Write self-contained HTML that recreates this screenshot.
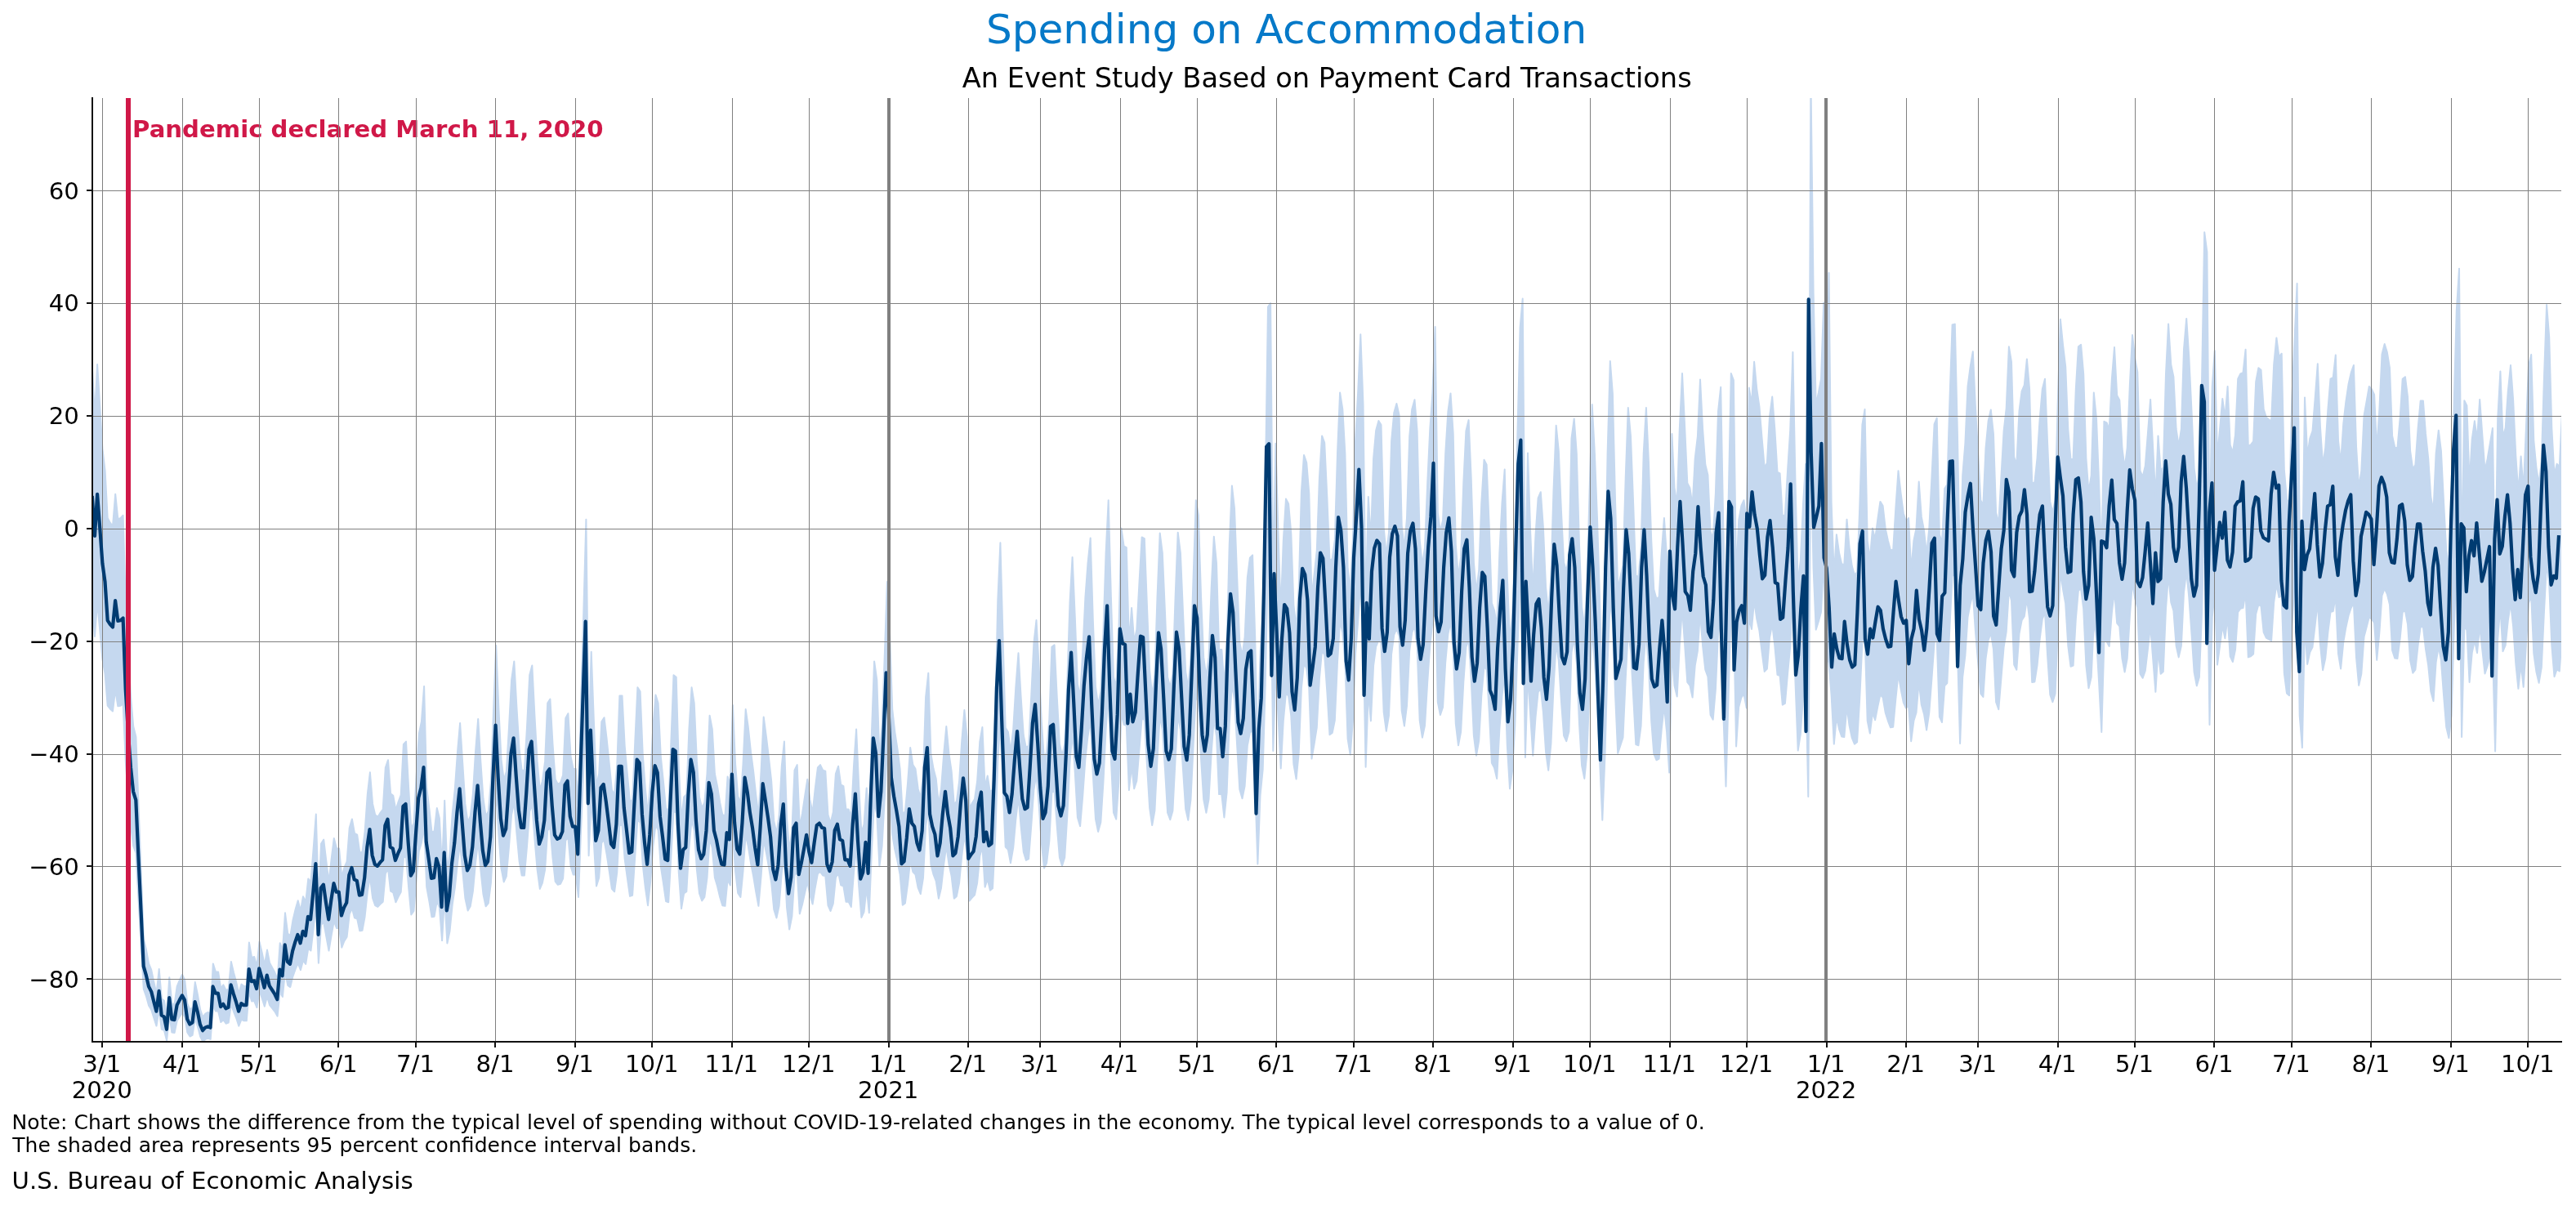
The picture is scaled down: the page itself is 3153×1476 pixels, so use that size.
<!DOCTYPE html><html><head><meta charset="utf-8"><title>Spending on Accommodation</title>
<style>html,body{margin:0;padding:0;background:#fff;overflow:hidden;}svg{display:block;will-change:transform;}text{font-family:"DejaVu Sans","Liberation Sans",sans-serif;}</style></head><body>
<svg width="3153" height="1476" viewBox="0 0 3153 1476">
<rect width="3153" height="1476" fill="#ffffff"/>
<defs><clipPath id="c"><rect x="113.0" y="120.0" width="3022.0" height="1155.0"/></clipPath></defs>
<g clip-path="url(#c)">
<polygon points="112.8,448.6 116.0,508.2 119.1,446.1 122.3,497.3 125.4,549.3 128.6,576.2 131.7,634.1 134.9,639.9 138.0,644.1 141.2,604.7 144.3,634.9 147.5,634.1 150.6,630.7 153.8,736.4 156.9,799.3 160.1,853.0 163.2,889.1 166.4,901.7 169.5,985.6 172.7,1067.8 175.8,1149.2 179.0,1162.6 182.1,1179.4 185.2,1187.0 188.4,1202.1 191.5,1216.3 194.7,1186.1 197.8,1222.2 201.0,1224.7 204.1,1243.2 207.3,1196.2 210.4,1228.1 213.6,1228.9 216.7,1207.1 219.9,1199.5 223.0,1192.8 226.2,1199.5 229.3,1228.1 232.5,1235.6 235.6,1233.1 238.8,1202.1 241.9,1217.2 245.1,1235.6 248.2,1244.8 251.4,1240.7 254.5,1239.0 257.7,1240.7 260.8,1179.4 264.0,1189.5 267.1,1189.5 270.3,1209.6 273.4,1205.4 276.6,1212.1 279.7,1210.5 282.9,1176.9 286.0,1190.3 289.2,1202.1 292.3,1216.3 295.5,1204.6 298.6,1207.1 301.8,1207.1 304.9,1153.4 308.1,1171.9 311.2,1171.0 314.4,1182.8 317.5,1152.6 320.7,1166.0 323.8,1181.1 327.0,1162.6 330.1,1178.6 333.3,1184.4 336.4,1190.3 339.6,1198.7 342.7,1154.2 345.9,1163.5 349.0,1117.3 352.2,1142.5 355.3,1145.8 358.4,1126.6 361.6,1113.1 364.7,1102.2 367.9,1114.8 371.0,1097.2 374.2,1103.9 377.3,1075.4 380.5,1079.6 383.6,1039.3 386.8,996.5 389.9,1102.2 393.1,1032.6 396.2,1027.5 399.4,1054.4 402.5,1079.6 405.7,1051.0 408.8,1025.9 412.0,1038.5 415.1,1038.5 418.3,1073.7 421.4,1061.9 424.6,1054.4 427.7,1013.3 430.9,1002.4 434.0,1020.0 437.2,1021.7 440.3,1043.5 443.5,1042.7 446.6,1017.5 449.8,972.2 452.9,945.3 456.1,983.9 459.2,997.3 462.4,999.9 465.5,994.8 468.7,990.6 471.8,939.5 475.0,930.2 478.1,971.3 481.3,973.9 484.4,991.5 487.6,981.4 490.7,973.0 493.9,910.9 497.0,907.6 500.2,965.5 503.3,1014.1 506.5,1007.4 509.6,950.4 512.8,898.3 515.9,883.2 519.1,839.9 522.2,963.8 525.4,989.8 528.5,1018.3 531.6,1017.5 534.8,989.0 537.9,1001.5 541.1,1061.1 544.2,979.7 547.4,1066.1 550.5,1044.3 553.7,995.7 556.8,965.5 560.0,920.2 563.1,884.9 566.3,935.3 569.4,983.9 572.6,1006.6 575.7,999.0 578.9,971.3 582.0,920.2 585.2,879.9 588.3,931.9 591.5,977.2 594.6,999.0 597.8,993.1 600.9,956.2 604.1,868.1 607.2,790.1 610.4,868.1 613.5,929.4 616.7,954.6 619.8,944.5 623.0,890.0 626.1,832.1 629.3,809.4 632.4,865.6 635.6,916.8 638.7,942.8 641.9,942.8 645.0,890.0 648.2,826.2 651.3,814.4 654.5,877.4 657.6,931.9 660.8,967.1 663.9,956.2 667.1,931.9 670.2,860.6 673.4,855.6 676.5,910.9 679.7,953.7 682.8,959.6 686.0,957.9 689.1,948.7 692.3,879.0 695.4,873.2 698.6,926.0 701.7,941.1 704.8,941.1 708.0,982.2 711.1,859.7 714.3,749.0 717.4,635.7 720.6,906.7 723.7,797.7 726.9,883.2 730.0,962.1 733.2,947.0 736.3,883.2 739.5,878.2 742.6,904.2 745.8,935.3 748.9,967.1 752.1,972.2 755.2,937.8 758.4,851.4 761.5,851.4 764.7,913.4 767.8,947.0 771.0,980.6 774.1,978.9 777.3,907.6 780.4,841.3 783.6,846.3 786.7,922.7 789.9,965.5 793.0,997.3 796.2,952.9 799.3,890.0 802.5,850.5 805.6,860.6 808.8,926.0 811.9,956.2 815.1,989.8 818.2,991.5 821.4,907.6 824.5,826.2 827.7,828.7 830.8,937.8 834.0,1003.2 837.1,975.5 840.3,972.2 843.4,892.5 846.6,841.3 849.7,860.6 852.9,931.9 856.0,975.5 859.2,989.0 862.3,982.2 865.5,947.0 868.6,875.7 871.8,892.5 874.9,947.0 878.0,962.1 881.2,982.2 884.3,997.3 887.5,998.2 890.6,950.4 893.8,960.4 896.9,863.1 900.1,935.3 903.2,974.7 906.4,982.2 909.5,935.3 912.7,868.1 915.8,890.0 919.0,920.2 922.1,943.6 925.3,973.0 928.4,998.2 931.6,943.6 934.7,877.4 937.9,901.7 941.0,927.7 944.2,956.2 947.3,1004.9 950.5,1020.0 953.6,998.2 956.8,937.8 959.9,907.6 963.1,1001.5 966.2,1041.0 969.4,1016.6 972.5,942.8 975.7,936.1 978.8,1012.4 982.0,995.7 985.1,974.7 988.3,953.7 991.4,978.9 994.6,994.8 997.7,965.5 1000.9,939.5 1004.0,936.1 1007.2,942.8 1010.3,943.6 1013.5,997.3 1016.6,1007.4 1019.8,994.0 1022.9,947.0 1026.1,937.8 1029.2,960.4 1032.4,962.1 1035.5,990.6 1038.7,990.6 1041.8,999.9 1045.0,937.8 1048.1,892.5 1051.2,962.1 1054.4,1019.2 1057.5,1009.1 1060.7,964.6 1063.8,1010.8 1067.0,895.8 1070.1,809.4 1073.3,832.1 1076.4,926.0 1079.6,889.1 1082.7,804.4 1085.9,712.1 1089.0,774.2 1092.2,868.1 1095.3,895.8 1098.5,916.8 1101.6,941.1 1104.8,996.5 1107.9,993.1 1111.1,957.9 1114.2,915.1 1117.4,936.1 1120.5,941.1 1123.7,965.5 1126.8,976.4 1130.0,947.0 1133.1,853.0 1136.3,823.7 1139.4,922.7 1142.6,941.1 1145.7,952.9 1148.9,984.8 1152.0,965.5 1155.2,922.7 1158.3,889.1 1161.5,922.7 1164.6,943.6 1167.8,984.8 1170.9,980.6 1174.1,956.2 1177.2,907.6 1180.4,869.0 1183.5,901.7 1186.7,989.0 1189.8,983.1 1193.0,978.0 1196.1,956.2 1199.3,907.6 1202.4,890.0 1205.6,963.8 1208.7,949.5 1211.9,969.7 1215.0,966.3 1218.2,871.5 1221.3,734.7 1224.4,664.3 1227.6,783.4 1230.7,890.8 1233.9,895.8 1237.0,920.2 1240.2,892.5 1243.3,841.3 1246.5,799.3 1249.6,853.0 1252.8,900.0 1255.9,915.1 1259.1,912.6 1262.2,853.0 1265.4,786.8 1268.5,759.1 1271.7,817.0 1274.8,883.2 1278.0,929.4 1281.1,920.2 1284.3,880.7 1287.4,791.8 1290.6,789.3 1293.7,852.2 1296.9,910.1 1300.0,925.2 1303.2,910.1 1306.3,834.6 1309.5,737.3 1312.6,681.9 1315.8,755.7 1318.9,837.1 1322.1,853.0 1325.2,798.5 1328.4,731.4 1331.5,689.4 1334.7,658.4 1337.8,759.1 1341.0,840.5 1344.1,863.1 1347.3,846.3 1350.4,774.2 1353.6,676.8 1356.7,612.2 1359.9,731.4 1363.0,828.7 1366.2,840.5 1369.3,774.2 1372.5,646.6 1375.6,668.5 1378.8,670.1 1381.9,787.6 1385.1,744.0 1388.2,785.1 1391.3,770.8 1394.5,712.9 1397.6,657.5 1400.8,659.2 1403.9,740.6 1407.1,819.5 1410.2,851.4 1413.4,825.3 1416.5,731.4 1419.7,652.5 1422.8,676.8 1426.0,749.8 1429.1,828.7 1432.3,841.3 1435.4,825.3 1438.6,731.4 1441.7,651.7 1444.9,676.8 1448.0,749.8 1451.2,822.0 1454.3,842.1 1457.5,804.4 1460.6,707.1 1463.8,612.2 1466.9,630.7 1470.1,731.4 1473.2,804.4 1476.4,828.7 1479.5,804.4 1482.7,719.6 1485.8,656.7 1489.0,689.4 1492.1,795.1 1495.3,795.1 1498.4,837.1 1501.6,791.8 1504.7,667.6 1507.9,594.6 1511.0,622.3 1514.2,707.1 1517.3,785.9 1520.5,802.7 1523.6,780.0 1526.8,707.1 1529.9,682.7 1533.1,679.4 1536.2,780.0 1539.4,921.8 1542.5,797.7 1545.7,749.8 1548.8,592.1 1552.0,375.6 1555.1,371.0 1558.3,716.3 1561.4,542.8 1564.5,652.5 1567.7,748.2 1570.8,661.7 1574.0,610.6 1577.1,616.4 1580.3,652.5 1583.4,740.6 1586.6,767.5 1589.7,719.6 1592.9,602.2 1596.0,556.9 1599.2,566.1 1602.3,603.9 1605.5,730.5 1608.6,703.7 1611.8,673.5 1614.9,585.4 1618.1,533.4 1621.2,541.8 1624.4,609.7 1627.5,686.9 1630.7,683.6 1633.8,660.9 1637.0,555.2 1640.1,480.5 1643.3,500.7 1646.4,555.2 1649.6,694.5 1652.7,723.0 1655.9,660.9 1659.0,540.1 1662.2,479.7 1665.3,409.2 1668.5,494.8 1671.6,745.6 1674.8,608.0 1677.9,661.7 1681.1,561.1 1684.2,526.7 1687.4,514.9 1690.5,520.0 1693.7,645.8 1696.8,680.2 1700.0,651.7 1703.1,540.1 1706.3,504.9 1709.4,493.9 1712.6,508.2 1715.7,643.3 1718.9,671.0 1722.0,634.1 1725.2,534.2 1728.3,500.7 1731.5,489.3 1734.6,527.5 1737.7,660.9 1740.9,691.9 1744.0,670.1 1747.2,591.3 1750.3,525.0 1753.5,479.7 1756.6,400.0 1759.8,627.3 1762.9,650.8 1766.1,636.6 1769.2,555.2 1772.4,503.6 1775.5,481.4 1778.7,530.9 1781.8,666.8 1785.0,706.2 1788.1,681.9 1791.3,591.3 1794.4,527.5 1797.6,514.1 1800.7,585.4 1803.9,688.6 1807.0,724.7 1810.2,697.8 1813.3,615.6 1816.5,562.7 1819.6,568.6 1822.8,645.8 1825.9,738.1 1829.1,747.3 1832.2,766.6 1835.4,676.0 1838.5,615.6 1841.7,574.5 1844.8,706.2 1848.0,785.1 1851.1,751.5 1854.3,670.1 1857.4,530.9 1860.6,400.8 1863.7,365.6 1866.9,728.0 1870.0,554.5 1873.2,651.7 1876.3,724.7 1879.5,655.0 1882.6,609.7 1885.8,602.2 1888.9,645.8 1892.1,718.8 1895.2,751.5 1898.4,703.7 1901.5,600.5 1904.7,520.8 1907.8,551.8 1910.9,624.8 1914.1,688.6 1917.2,698.7 1920.4,681.0 1923.5,536.7 1926.7,512.4 1929.8,555.2 1933.0,666.8 1936.1,743.1 1939.3,766.6 1942.4,721.3 1945.6,600.5 1948.7,495.1 1951.9,555.2 1955.0,634.9 1958.2,738.1 1961.3,842.1 1964.5,723.8 1967.6,555.2 1970.8,441.9 1973.9,482.2 1977.1,615.6 1980.2,720.5 1983.4,706.2 1986.5,691.9 1989.7,585.4 1992.8,499.0 1996.0,534.2 1999.1,615.6 2002.3,704.5 2005.4,706.2 2008.6,670.1 2011.7,555.2 2014.9,499.0 2018.0,566.9 2021.2,660.9 2024.3,721.3 2027.5,733.1 2030.6,730.5 2033.8,676.0 2036.9,634.1 2040.1,681.9 2043.2,755.7 2046.4,530.9 2049.5,597.1 2052.7,617.3 2055.8,525.0 2059.0,457.0 2062.1,521.6 2065.3,591.3 2068.4,597.1 2071.6,619.0 2074.7,561.1 2077.9,534.2 2081.0,464.6 2084.1,525.0 2087.3,568.6 2090.4,581.2 2093.6,650.8 2096.7,659.2 2099.9,603.9 2103.0,503.6 2106.2,473.8 2109.3,645.8 2112.5,780.9 2115.6,615.6 2118.8,457.0 2121.9,465.4 2125.1,707.9 2128.2,636.6 2131.4,619.0 2134.5,612.2 2137.7,638.3 2140.8,474.6 2144.0,494.8 2147.1,442.8 2150.3,476.3 2153.4,497.3 2156.6,536.7 2159.7,572.0 2162.9,566.9 2166.0,509.9 2169.2,485.6 2172.3,525.0 2175.5,577.8 2178.6,579.5 2181.8,632.4 2184.9,629.9 2188.1,575.3 2191.2,526.7 2194.4,431.0 2197.5,591.3 2200.7,715.4 2203.8,686.1 2207.0,617.3 2210.1,567.8 2213.3,799.3 2216.4,95.4 2219.6,357.4 2222.7,495.6 2225.9,480.5 2229.0,463.7 2232.2,370.6 2235.3,540.9 2238.5,333.9 2241.6,614.8 2244.8,703.7 2247.9,654.2 2251.1,676.8 2254.2,690.3 2257.3,691.1 2260.5,635.7 2263.6,670.1 2266.8,692.8 2269.9,703.7 2273.1,700.3 2276.2,622.3 2279.4,520.0 2282.5,501.1 2285.7,661.7 2288.8,684.4 2292.0,646.6 2295.1,660.1 2298.3,635.7 2301.4,613.9 2304.6,619.0 2307.7,646.6 2310.9,661.7 2314.0,673.5 2317.2,672.7 2320.3,622.3 2323.5,576.2 2326.6,603.9 2329.8,628.2 2332.9,638.3 2336.1,634.1 2339.2,698.7 2342.4,661.7 2345.5,646.6 2348.7,589.6 2351.8,632.4 2355.0,649.2 2358.1,678.5 2361.3,646.6 2364.4,585.4 2367.6,519.1 2370.7,511.6 2373.9,654.2 2377.0,664.3 2380.2,598.0 2383.3,592.9 2386.5,488.1 2389.6,397.5 2392.8,396.6 2395.9,530.9 2399.1,702.9 2402.2,582.0 2405.4,542.6 2408.5,473.0 2411.7,448.6 2414.8,430.2 2418.0,499.8 2421.1,554.4 2424.3,612.2 2427.4,618.1 2430.5,548.5 2433.7,514.9 2436.8,501.5 2440.0,531.7 2443.1,627.3 2446.3,640.8 2449.4,584.6 2452.6,527.5 2455.7,499.8 2458.9,424.3 2462.0,442.8 2465.2,559.4 2468.3,568.6 2471.5,503.2 2474.6,478.8 2477.8,471.3 2480.9,439.4 2484.1,476.3 2487.2,591.3 2490.4,590.4 2493.5,561.1 2496.7,512.4 2499.8,476.3 2503.0,463.7 2506.1,542.6 2509.3,613.9 2512.4,627.3 2515.6,612.2 2518.7,494.4 2521.9,390.7 2525.0,421.8 2528.2,448.6 2531.3,525.0 2534.5,562.7 2537.6,561.1 2540.8,476.3 2543.9,424.3 2547.1,421.8 2550.2,457.9 2553.4,561.1 2556.5,602.2 2559.7,582.0 2562.8,480.5 2566.0,512.4 2569.1,591.3 2572.3,681.9 2575.4,515.8 2578.6,517.4 2581.7,525.8 2584.9,463.7 2588.0,425.1 2591.2,483.9 2594.3,489.7 2597.5,548.5 2600.6,572.8 2603.7,548.5 2606.9,470.5 2610.0,410.0 2613.2,438.6 2616.3,455.4 2619.5,576.2 2622.6,583.7 2625.8,570.3 2628.9,530.9 2632.1,488.9 2635.2,548.5 2638.4,608.9 2641.5,533.4 2644.7,576.2 2647.8,572.0 2651.0,457.9 2654.1,396.6 2657.3,446.1 2660.4,461.2 2663.6,525.0 2666.7,546.0 2669.9,525.0 2673.0,427.7 2676.2,389.9 2679.3,436.9 2682.5,503.2 2685.6,572.8 2688.8,598.0 2691.9,582.0 2695.1,463.7 2698.2,284.2 2701.4,308.5 2704.5,668.5 2707.7,473.0 2710.8,429.3 2714.0,559.4 2717.1,525.0 2720.3,488.1 2723.4,511.6 2726.6,473.0 2729.7,544.3 2732.9,554.4 2736.0,532.5 2739.2,463.7 2742.3,457.4 2745.5,456.2 2748.6,427.7 2751.8,546.0 2754.9,544.3 2758.1,540.1 2761.2,467.1 2764.4,450.3 2767.5,452.8 2770.7,500.7 2773.8,510.7 2776.9,513.2 2780.1,515.8 2783.2,446.1 2786.4,413.4 2789.5,436.9 2792.7,432.7 2795.8,574.5 2799.0,611.4 2802.1,615.6 2805.3,488.1 2808.4,418.4 2811.6,347.1 2814.7,651.7 2817.9,710.4 2821.0,486.4 2824.2,558.5 2827.3,536.7 2830.5,527.5 2833.6,488.1 2836.8,445.3 2839.9,521.6 2843.1,569.5 2846.2,548.5 2849.4,500.7 2852.5,463.7 2855.7,462.1 2858.8,434.4 2862.0,539.3 2865.1,566.9 2868.3,518.3 2871.4,491.4 2874.6,470.0 2877.7,456.2 2880.9,447.0 2884.0,546.0 2887.2,597.1 2890.3,576.2 2893.5,509.0 2896.6,491.4 2899.8,473.0 2902.9,476.3 2906.1,483.0 2909.2,551.0 2912.4,500.7 2915.5,433.5 2918.7,421.0 2921.8,431.0 2925.0,450.3 2928.1,533.4 2931.3,547.6 2934.4,548.5 2937.6,512.4 2940.7,463.7 2943.9,461.2 2947.0,485.6 2950.1,551.8 2953.3,574.5 2956.4,568.6 2959.6,524.1 2962.7,490.6 2965.9,490.6 2969.0,530.9 2972.2,561.1 2975.3,608.0 2978.5,625.7 2981.6,555.2 2984.8,526.7 2987.9,551.8 2991.1,615.6 2994.2,672.7 2997.4,692.8 3000.5,651.7 3003.7,493.9 3006.8,379.8 3010.0,328.7 3013.1,691.1 3016.3,490.2 3019.4,496.5 3022.6,591.3 3025.7,538.0 3028.9,515.3 3032.0,538.0 3035.2,488.9 3038.3,532.1 3041.5,575.7 3044.6,561.9 3047.8,542.6 3050.9,524.1 3054.1,717.1 3057.2,512.4 3060.4,454.5 3063.5,535.1 3066.7,523.7 3069.8,478.8 3073.0,447.0 3076.1,489.3 3079.3,557.7 3082.4,603.0 3085.6,558.5 3088.7,600.1 3091.9,524.1 3095.0,447.4 3098.2,434.0 3101.3,539.3 3104.5,572.8 3107.6,592.5 3110.8,564.4 3113.9,463.7 3117.1,373.1 3120.2,412.6 3123.3,524.1 3126.5,581.2 3129.6,567.8 3132.8,571.1 3135.9,507.4 3135.9,778.5 3132.8,821.4 3129.6,819.1 3126.5,828.1 3123.3,789.7 3120.2,714.7 3117.1,688.1 3113.9,749.1 3110.8,816.9 3107.6,835.8 3104.5,822.5 3101.3,799.9 3098.2,729.1 3095.0,738.1 3091.9,789.7 3088.7,840.8 3085.6,812.9 3082.4,842.8 3079.3,812.3 3076.1,766.3 3073.0,737.8 3069.8,759.3 3066.7,789.5 3063.5,797.1 3060.4,742.9 3057.2,781.8 3054.1,919.6 3050.9,789.7 3047.8,802.2 3044.6,815.2 3041.5,824.5 3038.3,795.1 3035.2,766.0 3032.0,799.1 3028.9,783.8 3025.7,799.1 3022.6,834.9 3019.4,771.1 3016.3,766.9 3013.1,902.1 3010.0,658.2 3006.8,692.6 3003.7,769.4 3000.5,875.6 2997.4,903.2 2994.2,889.7 2991.1,851.3 2987.9,808.4 2984.8,791.4 2981.6,810.6 2978.5,858.1 2975.3,846.2 2972.2,814.6 2969.0,794.3 2965.9,767.2 2962.7,767.2 2959.6,789.7 2956.4,819.7 2953.3,823.6 2950.1,808.4 2947.0,763.8 2943.9,747.4 2940.7,749.1 2937.6,781.8 2934.4,806.1 2931.3,805.6 2928.1,796.0 2925.0,740.1 2921.8,727.1 2918.7,720.3 2915.5,728.8 2912.4,773.9 2909.2,807.8 2906.1,762.1 2902.9,757.6 2899.8,755.3 2896.6,767.7 2893.5,779.6 2890.3,824.8 2887.2,838.9 2884.0,804.4 2880.9,737.8 2877.7,744.0 2874.6,753.3 2871.4,767.7 2868.3,785.8 2865.1,818.5 2862.0,799.9 2858.8,729.3 2855.7,748.0 2852.5,749.1 2849.4,773.9 2846.2,806.1 2843.1,820.2 2839.9,788.1 2836.8,736.7 2833.6,765.5 2830.5,792.0 2827.3,798.2 2824.2,812.9 2821.0,764.3 2817.9,915.1 2814.7,875.6 2811.6,670.6 2808.4,718.6 2805.3,765.5 2802.1,851.3 2799.0,848.5 2795.8,823.6 2792.7,728.2 2789.5,731.0 2786.4,715.2 2783.2,737.2 2780.1,784.1 2776.9,782.4 2773.8,780.7 2770.7,773.9 2767.5,741.8 2764.4,740.1 2761.2,751.4 2758.1,800.5 2754.9,803.3 2751.8,804.4 2748.6,724.8 2745.5,744.0 2742.3,744.9 2739.2,749.1 2736.0,795.4 2732.9,810.1 2729.7,803.3 2726.6,755.3 2723.4,781.3 2720.3,765.5 2717.1,790.3 2714.0,813.5 2710.8,725.9 2707.7,755.3 2704.5,886.9 2701.4,644.6 2698.2,628.3 2695.1,749.1 2691.9,828.7 2688.8,839.4 2685.6,822.5 2682.5,775.6 2679.3,731.0 2676.2,699.4 2673.0,724.8 2669.9,790.3 2666.7,804.4 2663.6,790.3 2660.4,747.4 2657.3,737.2 2654.1,703.9 2651.0,745.1 2647.8,821.9 2644.7,824.8 2641.5,796.0 2638.4,846.8 2635.2,806.1 2632.1,766.0 2628.9,794.3 2625.8,820.8 2622.6,829.8 2619.5,824.8 2616.3,743.5 2613.2,732.2 2610.0,713.0 2606.9,753.6 2603.7,806.1 2600.6,822.5 2597.5,806.1 2594.3,766.6 2591.2,762.6 2588.0,723.1 2584.9,749.1 2581.7,790.9 2578.6,785.2 2575.4,784.1 2572.3,895.9 2569.1,834.9 2566.0,781.8 2562.8,760.4 2559.7,828.7 2556.5,842.3 2553.4,814.6 2550.2,745.1 2547.1,720.9 2543.9,722.6 2540.8,757.6 2537.6,814.6 2534.5,815.7 2531.3,790.3 2528.2,738.9 2525.0,720.9 2521.9,700.0 2518.7,769.7 2515.6,849.0 2512.4,859.2 2509.3,850.2 2506.1,802.2 2503.0,749.1 2499.8,757.6 2496.7,781.8 2493.5,814.6 2490.4,834.4 2487.2,834.9 2484.1,757.6 2480.9,732.7 2477.8,754.2 2474.6,759.3 2471.5,775.6 2468.3,819.7 2465.2,813.5 2462.0,735.0 2458.9,722.6 2455.7,773.4 2452.6,792.0 2449.4,830.4 2446.3,868.2 2443.1,859.2 2440.0,794.8 2436.8,774.5 2433.7,783.5 2430.5,806.1 2427.4,853.0 2424.3,849.0 2421.1,810.1 2418.0,773.4 2414.8,726.5 2411.7,738.9 2408.5,755.3 2405.4,802.2 2402.2,828.7 2399.1,910.0 2395.9,794.3 2392.8,703.9 2389.6,704.5 2386.5,765.5 2383.3,836.0 2380.2,839.4 2377.0,884.0 2373.9,877.3 2370.7,781.3 2367.6,786.4 2364.4,831.0 2361.3,872.2 2358.1,893.6 2355.0,873.9 2351.8,862.6 2348.7,833.8 2345.5,872.2 2342.4,882.3 2339.2,907.2 2336.1,863.7 2332.9,866.5 2329.8,859.8 2326.6,843.4 2323.5,824.8 2320.3,855.8 2317.2,889.7 2314.0,890.3 2310.9,882.3 2307.7,872.2 2304.6,853.6 2301.4,850.2 2298.3,864.8 2295.1,881.2 2292.0,872.2 2288.8,897.6 2285.7,882.3 2282.5,774.2 2279.4,786.9 2276.2,855.8 2273.1,908.3 2269.9,910.6 2266.8,903.2 2263.6,888.0 2260.5,864.8 2257.3,902.1 2254.2,901.5 2251.1,892.5 2247.9,877.3 2244.8,910.6 2241.6,850.7 2238.5,811.2 2235.3,801.0 2232.2,686.4 2229.0,749.1 2225.9,760.4 2222.7,770.6 2219.6,695.5 2216.4,541.9 2213.3,974.9 2210.1,819.1 2207.0,852.4 2203.8,898.7 2200.7,918.5 2197.5,834.9 2194.4,727.1 2191.2,791.4 2188.1,824.2 2184.9,860.9 2181.8,862.6 2178.6,827.0 2175.5,825.9 2172.3,790.3 2169.2,763.8 2166.0,780.2 2162.9,818.5 2159.7,821.9 2156.6,798.2 2153.4,771.7 2150.3,757.6 2147.1,735.0 2144.0,770.0 2140.8,756.4 2137.7,866.5 2134.5,849.0 2131.4,853.6 2128.2,865.4 2125.1,913.4 2121.9,750.2 2118.8,744.6 2115.6,851.3 2112.5,962.5 2109.3,871.6 2106.2,755.9 2103.0,775.9 2099.9,843.4 2096.7,880.7 2093.6,875.0 2090.4,828.1 2087.3,819.7 2084.1,790.3 2081.0,749.7 2077.9,796.5 2074.7,814.6 2071.6,853.6 2068.4,838.9 2065.3,834.9 2062.1,788.1 2059.0,744.6 2055.8,790.3 2052.7,852.4 2049.5,838.9 2046.4,794.3 2043.2,945.6 2040.1,895.9 2036.9,863.7 2033.8,891.9 2030.6,928.6 2027.5,930.3 2024.3,922.4 2021.2,881.8 2018.0,818.5 2014.9,772.8 2011.7,810.6 2008.6,888.0 2005.4,912.3 2002.3,911.1 1999.1,851.3 1996.0,796.5 1992.8,772.8 1989.7,831.0 1986.5,902.7 1983.4,912.3 1980.2,921.9 1977.1,851.3 1973.9,761.5 1970.8,734.4 1967.6,810.6 1964.5,924.1 1961.3,1003.7 1958.2,933.7 1955.0,864.3 1951.9,810.6 1948.7,770.2 1945.6,841.1 1942.4,922.4 1939.3,952.9 1936.1,937.1 1933.0,885.7 1929.8,810.6 1926.7,781.8 1923.5,798.2 1920.4,895.3 1917.2,907.2 1914.1,900.4 1910.9,857.5 1907.8,808.4 1904.7,787.5 1901.5,841.1 1898.4,910.6 1895.2,942.8 1892.1,920.7 1888.9,871.6 1885.8,842.3 1882.6,847.3 1879.5,877.8 1876.3,924.7 1873.2,875.6 1870.0,824.8 1866.9,927.0 1863.7,683.0 1860.6,706.8 1857.4,794.3 1854.3,888.0 1851.1,942.8 1848.0,965.3 1844.8,912.3 1841.7,823.6 1838.5,851.3 1835.4,891.9 1832.2,952.9 1829.1,939.9 1825.9,933.7 1822.8,871.6 1819.6,819.7 1816.5,815.7 1813.3,851.3 1810.2,906.6 1807.0,924.7 1803.9,900.4 1800.7,831.0 1797.6,783.0 1794.4,792.0 1791.3,834.9 1788.1,895.9 1785.0,912.3 1781.8,885.7 1778.7,794.3 1775.5,761.0 1772.4,775.9 1769.2,810.6 1766.1,865.4 1762.9,875.0 1759.8,859.2 1756.6,706.2 1753.5,759.8 1750.3,790.3 1747.2,834.9 1744.0,888.0 1740.9,902.7 1737.7,881.8 1734.6,792.0 1731.5,766.3 1728.3,773.9 1725.2,796.5 1722.0,863.7 1718.9,888.6 1715.7,869.9 1712.6,779.0 1709.4,769.4 1706.3,776.8 1703.1,800.5 1700.0,875.6 1696.8,894.8 1693.7,871.6 1690.5,786.9 1687.4,783.5 1684.2,791.4 1681.1,814.6 1677.9,882.3 1674.8,846.2 1671.6,938.8 1668.5,770.0 1665.3,712.4 1662.2,759.8 1659.0,800.5 1655.9,881.8 1652.7,923.6 1649.6,904.4 1646.4,810.6 1643.3,773.9 1640.1,760.4 1637.0,810.6 1633.8,881.8 1630.7,897.0 1627.5,899.3 1624.4,847.3 1621.2,801.6 1618.1,796.0 1614.9,831.0 1611.8,890.3 1608.6,910.6 1605.5,928.6 1602.3,843.4 1599.2,818.0 1596.0,811.8 1592.9,842.3 1589.7,921.3 1586.6,953.5 1583.4,935.4 1580.3,876.1 1577.1,851.9 1574.0,847.9 1570.8,882.3 1567.7,940.5 1564.5,876.1 1561.4,816.9 1558.3,919.0 1555.1,686.7 1552.0,689.8 1548.8,835.5 1545.7,941.6 1542.5,973.8 1539.4,1057.4 1536.2,962.0 1533.1,894.2 1529.9,896.5 1526.8,912.8 1523.6,962.0 1520.5,977.2 1517.3,965.9 1514.2,912.8 1511.0,855.8 1507.9,837.2 1504.7,886.3 1501.6,969.9 1498.4,1000.4 1495.3,972.1 1492.1,972.1 1489.0,901.0 1485.8,879.0 1482.7,921.3 1479.5,978.3 1476.4,994.7 1473.2,978.3 1470.1,929.2 1466.9,861.5 1463.8,849.0 1460.6,912.8 1457.5,978.3 1454.3,1003.7 1451.2,990.2 1448.0,941.6 1444.9,892.5 1441.7,875.6 1438.6,929.2 1435.4,992.4 1432.3,1003.2 1429.1,994.7 1426.0,941.6 1422.8,892.5 1419.7,876.1 1416.5,929.2 1413.4,992.4 1410.2,1010.0 1407.1,988.5 1403.9,935.4 1400.8,880.7 1397.6,879.5 1394.5,916.8 1391.3,955.7 1388.2,965.3 1385.1,937.7 1381.9,967.0 1378.8,888.0 1375.6,886.9 1372.5,872.2 1369.3,958.0 1366.2,1002.6 1363.0,994.7 1359.9,929.2 1356.7,849.0 1353.6,892.5 1350.4,958.0 1347.3,1006.6 1344.1,1017.9 1341.0,1002.6 1337.8,947.8 1334.7,880.1 1331.5,901.0 1328.4,929.2 1325.2,974.4 1322.1,1011.1 1318.9,1000.4 1315.8,945.6 1312.6,895.9 1309.5,933.2 1306.3,998.7 1303.2,1049.5 1300.0,1059.6 1296.9,1049.5 1293.7,1010.5 1290.6,968.2 1287.4,969.9 1284.3,1029.7 1281.1,1056.2 1278.0,1062.5 1274.8,1031.4 1271.7,986.8 1268.5,947.8 1265.4,966.5 1262.2,1011.1 1259.1,1051.2 1255.9,1052.9 1252.8,1042.7 1249.6,1011.1 1246.5,974.9 1243.3,1003.2 1240.2,1037.6 1237.0,1056.2 1233.9,1039.9 1230.7,1036.5 1227.6,964.2 1224.4,884.0 1221.3,931.5 1218.2,1023.5 1215.0,1087.3 1211.9,1089.6 1208.7,1076.0 1205.6,1085.6 1202.4,1035.9 1199.3,1047.8 1196.1,1080.5 1193.0,1095.2 1189.8,1098.6 1186.7,1102.5 1183.5,1043.8 1180.4,1021.8 1177.2,1047.8 1174.1,1080.5 1170.9,1096.9 1167.8,1099.7 1164.6,1072.1 1161.5,1057.9 1158.3,1035.4 1155.2,1057.9 1152.0,1086.7 1148.9,1099.7 1145.7,1078.3 1142.6,1070.4 1139.4,1057.9 1136.3,991.3 1133.1,1011.1 1130.0,1074.3 1126.8,1094.1 1123.7,1086.7 1120.5,1070.4 1117.4,1067.0 1114.2,1052.9 1111.1,1081.7 1107.9,1105.4 1104.8,1107.6 1101.6,1070.4 1098.5,1054.0 1095.3,1039.9 1092.2,1021.2 1089.0,958.0 1085.9,916.2 1082.7,978.3 1079.6,1035.4 1076.4,1060.2 1073.3,997.0 1070.1,981.7 1067.0,1039.9 1063.8,1117.2 1060.7,1086.2 1057.5,1116.1 1054.4,1122.9 1051.2,1084.5 1048.1,1037.6 1045.0,1068.1 1041.8,1109.9 1038.7,1103.7 1035.5,1103.7 1032.4,1084.5 1029.2,1083.4 1026.1,1068.1 1022.9,1074.3 1019.8,1105.9 1016.6,1115.0 1013.5,1108.2 1010.3,1072.1 1007.2,1071.5 1004.0,1067.0 1000.9,1069.2 997.7,1086.7 994.6,1106.5 991.4,1095.8 988.3,1078.8 985.1,1092.9 982.0,1107.1 978.8,1118.4 975.7,1067.0 972.5,1071.5 969.4,1121.2 966.2,1137.6 963.1,1111.0 959.9,1047.8 956.8,1068.1 953.6,1108.8 950.5,1123.4 947.3,1113.3 944.2,1080.5 941.0,1061.3 937.9,1043.8 934.7,1027.5 931.6,1072.1 928.4,1108.8 925.3,1091.8 922.1,1072.1 919.0,1056.2 915.8,1035.9 912.7,1021.2 909.5,1066.4 906.4,1098.0 903.2,1092.9 900.1,1066.4 896.9,1017.9 893.8,1083.4 890.6,1076.6 887.5,1108.8 884.3,1108.2 881.2,1098.0 878.0,1084.5 874.9,1074.3 871.8,1037.6 868.6,1026.3 865.5,1074.3 862.3,1098.0 859.2,1102.5 856.0,1093.5 852.9,1064.2 849.7,1016.2 846.6,1003.2 843.4,1037.6 840.3,1091.3 837.1,1093.5 834.0,1112.1 830.8,1068.1 827.7,994.7 824.5,993.0 821.4,1047.8 818.2,1104.2 815.1,1103.1 811.9,1080.5 808.8,1060.2 805.6,1016.2 802.5,1009.4 799.3,1035.9 796.2,1078.3 793.0,1108.2 789.9,1086.7 786.7,1057.9 783.6,1006.6 780.4,1003.2 777.3,1047.8 774.1,1095.8 771.0,1096.9 767.8,1074.3 764.7,1051.7 761.5,1010.0 758.4,1010.0 755.2,1068.1 752.1,1091.3 748.9,1087.9 745.8,1066.4 742.6,1045.5 739.5,1028.0 736.3,1031.4 733.2,1074.3 730.0,1084.5 726.9,1031.4 723.7,973.8 720.6,1047.2 717.4,864.8 714.3,941.1 711.1,1015.6 708.0,1098.0 704.8,1070.4 701.7,1070.4 698.6,1060.2 695.4,1024.6 692.3,1028.6 689.1,1075.4 686.0,1081.7 682.8,1082.8 679.7,1078.8 676.5,1050.0 673.4,1012.8 670.2,1016.2 667.1,1064.2 663.9,1080.5 660.8,1087.9 657.6,1064.2 654.5,1027.5 651.3,985.1 648.2,993.0 645.0,1035.9 641.9,1071.5 638.7,1071.5 635.6,1054.0 632.4,1019.5 629.3,981.7 626.1,997.0 623.0,1035.9 619.8,1072.6 616.7,1079.4 613.5,1062.5 610.4,1021.2 607.2,968.7 604.1,1021.2 600.9,1080.5 597.8,1105.4 594.6,1109.3 591.5,1094.6 588.3,1064.2 585.2,1029.1 582.0,1056.2 578.9,1090.7 575.7,1109.3 572.6,1114.4 569.4,1099.2 566.3,1066.4 563.1,1032.5 560.0,1056.2 556.8,1086.7 553.7,1107.1 550.5,1139.8 547.4,1154.5 544.2,1096.3 541.1,1151.1 537.9,1111.0 534.8,1102.5 531.6,1121.7 528.5,1122.3 525.4,1103.1 522.2,1085.6 519.1,1011.1 515.9,1031.4 512.8,1041.6 509.6,1076.6 506.5,1115.0 503.3,1119.5 500.2,1086.7 497.0,1047.8 493.9,1050.0 490.7,1091.8 487.6,1097.5 484.4,1104.2 481.3,1092.4 478.1,1090.7 475.0,1063.0 471.8,1069.2 468.7,1103.7 465.5,1106.5 462.4,1109.9 459.2,1108.2 456.1,1099.2 452.9,1073.2 449.8,1091.3 446.6,1121.7 443.5,1138.7 440.3,1139.2 437.2,1124.6 434.0,1123.4 430.9,1111.6 427.7,1118.9 424.6,1146.6 421.4,1151.7 418.3,1159.6 415.1,1135.9 412.0,1135.9 408.8,1127.4 405.7,1144.3 402.5,1163.5 399.4,1146.6 396.2,1128.5 393.1,1131.9 389.9,1178.8 386.8,1107.6 383.6,1136.4 380.5,1163.5 377.3,1160.7 374.2,1179.9 371.0,1175.4 367.9,1187.2 364.7,1178.8 361.6,1186.1 358.4,1195.1 355.3,1208.1 352.2,1205.9 349.0,1188.9 345.9,1220.0 342.7,1213.8 339.6,1243.7 336.4,1238.1 333.3,1234.1 330.1,1230.2 327.0,1219.4 323.8,1231.8 320.7,1221.7 317.5,1212.6 314.4,1233.0 311.2,1225.1 308.1,1225.6 304.9,1213.2 301.8,1249.3 298.6,1249.3 295.5,1247.7 292.3,1255.6 289.2,1246.0 286.0,1238.1 282.9,1229.0 279.7,1251.6 276.6,1252.7 273.4,1248.2 270.3,1251.0 267.1,1237.5 264.0,1237.5 260.8,1230.7 257.7,1271.9 254.5,1270.8 251.4,1271.9 248.2,1274.8 245.1,1268.5 241.9,1256.1 238.8,1246.0 235.6,1266.9 232.5,1268.5 229.3,1263.5 226.2,1244.3 223.0,1239.8 219.9,1244.3 216.7,1249.3 213.6,1264.0 210.4,1263.5 207.3,1242.0 204.1,1273.6 201.0,1261.2 197.8,1259.5 194.7,1235.2 191.5,1255.6 188.4,1246.0 185.2,1235.8 182.1,1230.7 179.0,1219.4 175.8,1210.4 172.7,1155.6 169.5,1100.3 166.4,1043.8 163.2,1035.4 160.1,1011.1 156.9,974.9 153.8,932.6 150.6,861.5 147.5,863.7 144.3,864.3 141.2,844.0 138.0,870.5 134.9,867.7 131.7,863.7 128.6,824.8 125.4,806.7 122.3,771.7 119.1,737.2 116.0,779.0 112.8,738.9" fill="#c5d8ef" stroke="#c5d8ef" stroke-width="2" stroke-linejoin="round"/>
<text x="162.1" y="168.1" font-size="29.17" font-weight="bold" fill="#d01848">Pandemic declared March 11, 2020</text>
<line x1="125.5" x2="125.5" y1="120.0" y2="1275.0" stroke="#808080" stroke-width="1" shape-rendering="crispEdges"/>
<line x1="223.5" x2="223.5" y1="120.0" y2="1275.0" stroke="#808080" stroke-width="1" shape-rendering="crispEdges"/>
<line x1="317.5" x2="317.5" y1="120.0" y2="1275.0" stroke="#808080" stroke-width="1" shape-rendering="crispEdges"/>
<line x1="414.5" x2="414.5" y1="120.0" y2="1275.0" stroke="#808080" stroke-width="1" shape-rendering="crispEdges"/>
<line x1="509.5" x2="509.5" y1="120.0" y2="1275.0" stroke="#808080" stroke-width="1" shape-rendering="crispEdges"/>
<line x1="606.5" x2="606.5" y1="120.0" y2="1275.0" stroke="#808080" stroke-width="1" shape-rendering="crispEdges"/>
<line x1="704.5" x2="704.5" y1="120.0" y2="1275.0" stroke="#808080" stroke-width="1" shape-rendering="crispEdges"/>
<line x1="798.5" x2="798.5" y1="120.0" y2="1275.0" stroke="#808080" stroke-width="1" shape-rendering="crispEdges"/>
<line x1="896.5" x2="896.5" y1="120.0" y2="1275.0" stroke="#808080" stroke-width="1" shape-rendering="crispEdges"/>
<line x1="990.5" x2="990.5" y1="120.0" y2="1275.0" stroke="#808080" stroke-width="1" shape-rendering="crispEdges"/>
<line x1="1185.5" x2="1185.5" y1="120.0" y2="1275.0" stroke="#808080" stroke-width="1" shape-rendering="crispEdges"/>
<line x1="1273.5" x2="1273.5" y1="120.0" y2="1275.0" stroke="#808080" stroke-width="1" shape-rendering="crispEdges"/>
<line x1="1371.5" x2="1371.5" y1="120.0" y2="1275.0" stroke="#808080" stroke-width="1" shape-rendering="crispEdges"/>
<line x1="1465.5" x2="1465.5" y1="120.0" y2="1275.0" stroke="#808080" stroke-width="1" shape-rendering="crispEdges"/>
<line x1="1562.5" x2="1562.5" y1="120.0" y2="1275.0" stroke="#808080" stroke-width="1" shape-rendering="crispEdges"/>
<line x1="1657.5" x2="1657.5" y1="120.0" y2="1275.0" stroke="#808080" stroke-width="1" shape-rendering="crispEdges"/>
<line x1="1754.5" x2="1754.5" y1="120.0" y2="1275.0" stroke="#808080" stroke-width="1" shape-rendering="crispEdges"/>
<line x1="1852.5" x2="1852.5" y1="120.0" y2="1275.0" stroke="#808080" stroke-width="1" shape-rendering="crispEdges"/>
<line x1="1946.5" x2="1946.5" y1="120.0" y2="1275.0" stroke="#808080" stroke-width="1" shape-rendering="crispEdges"/>
<line x1="2044.5" x2="2044.5" y1="120.0" y2="1275.0" stroke="#808080" stroke-width="1" shape-rendering="crispEdges"/>
<line x1="2138.5" x2="2138.5" y1="120.0" y2="1275.0" stroke="#808080" stroke-width="1" shape-rendering="crispEdges"/>
<line x1="2333.5" x2="2333.5" y1="120.0" y2="1275.0" stroke="#808080" stroke-width="1" shape-rendering="crispEdges"/>
<line x1="2421.5" x2="2421.5" y1="120.0" y2="1275.0" stroke="#808080" stroke-width="1" shape-rendering="crispEdges"/>
<line x1="2519.5" x2="2519.5" y1="120.0" y2="1275.0" stroke="#808080" stroke-width="1" shape-rendering="crispEdges"/>
<line x1="2613.5" x2="2613.5" y1="120.0" y2="1275.0" stroke="#808080" stroke-width="1" shape-rendering="crispEdges"/>
<line x1="2710.5" x2="2710.5" y1="120.0" y2="1275.0" stroke="#808080" stroke-width="1" shape-rendering="crispEdges"/>
<line x1="2805.5" x2="2805.5" y1="120.0" y2="1275.0" stroke="#808080" stroke-width="1" shape-rendering="crispEdges"/>
<line x1="2902.5" x2="2902.5" y1="120.0" y2="1275.0" stroke="#808080" stroke-width="1" shape-rendering="crispEdges"/>
<line x1="3000.5" x2="3000.5" y1="120.0" y2="1275.0" stroke="#808080" stroke-width="1" shape-rendering="crispEdges"/>
<line x1="3094.5" x2="3094.5" y1="120.0" y2="1275.0" stroke="#808080" stroke-width="1" shape-rendering="crispEdges"/>
<line x1="113.0" x2="3135.0" y1="1198.5" y2="1198.5" stroke="#808080" stroke-width="1" shape-rendering="crispEdges"/>
<line x1="113.0" x2="3135.0" y1="1060.5" y2="1060.5" stroke="#808080" stroke-width="1" shape-rendering="crispEdges"/>
<line x1="113.0" x2="3135.0" y1="923.5" y2="923.5" stroke="#808080" stroke-width="1" shape-rendering="crispEdges"/>
<line x1="113.0" x2="3135.0" y1="785.5" y2="785.5" stroke="#808080" stroke-width="1" shape-rendering="crispEdges"/>
<line x1="113.0" x2="3135.0" y1="647.5" y2="647.5" stroke="#808080" stroke-width="1" shape-rendering="crispEdges"/>
<line x1="113.0" x2="3135.0" y1="509.5" y2="509.5" stroke="#808080" stroke-width="1" shape-rendering="crispEdges"/>
<line x1="113.0" x2="3135.0" y1="371.5" y2="371.5" stroke="#808080" stroke-width="1" shape-rendering="crispEdges"/>
<line x1="113.0" x2="3135.0" y1="233.5" y2="233.5" stroke="#808080" stroke-width="1" shape-rendering="crispEdges"/>
<polyline points="112.8,606.9 116.0,655.9 119.1,604.8 122.3,646.9 125.4,689.6 128.5,711.7 131.7,759.3 134.8,764.1 138.0,767.5 141.1,735.1 144.3,760.0 147.4,759.3 150.6,756.5 153.7,843.4 156.8,895.1 160.0,939.2 163.1,968.8 166.3,979.2 169.4,1048.1 172.6,1115.7 175.7,1182.6 178.9,1193.6 182.0,1207.4 185.2,1213.6 188.3,1226.0 191.4,1237.7 194.6,1212.9 197.7,1242.5 200.9,1244.6 204.0,1259.8 207.2,1221.2 210.3,1247.4 213.5,1248.1 216.6,1230.1 219.8,1223.9 222.9,1218.4 226.0,1223.9 229.2,1247.4 232.3,1253.6 235.5,1251.5 238.6,1226.0 241.8,1238.4 244.9,1253.6 248.1,1261.2 251.2,1257.7 254.3,1256.3 257.5,1257.7 260.6,1207.4 263.8,1215.7 266.9,1215.7 270.1,1232.2 273.2,1228.8 276.4,1234.3 279.5,1232.9 282.6,1205.3 285.8,1216.3 288.9,1226.0 292.1,1237.7 295.2,1228.1 298.4,1230.1 301.5,1230.1 304.7,1186.0 307.8,1201.2 311.0,1200.5 314.1,1210.1 317.2,1185.3 320.4,1196.4 323.5,1208.8 326.7,1193.6 329.8,1206.7 333.0,1211.5 336.1,1216.3 339.3,1223.2 342.4,1186.7 345.6,1194.3 348.7,1156.4 351.8,1177.0 355.0,1179.8 358.1,1163.9 361.3,1152.9 364.4,1144.0 367.6,1154.3 370.7,1139.8 373.9,1145.3 377.0,1121.9 380.1,1125.3 383.3,1092.3 386.4,1057.1 389.6,1144.0 392.7,1086.7 395.9,1082.6 399.0,1104.7 402.2,1125.3 405.3,1101.9 408.5,1081.2 411.6,1091.6 414.7,1091.6 417.9,1120.5 421.0,1110.9 424.2,1104.7 427.3,1070.9 430.5,1061.9 433.6,1076.4 436.8,1077.8 439.9,1095.7 443.0,1095.0 446.2,1074.3 449.3,1037.1 452.5,1015.0 455.6,1046.8 458.8,1057.8 461.9,1059.9 465.1,1055.7 468.2,1052.3 471.4,1010.2 474.5,1002.6 477.6,1036.4 480.8,1038.5 483.9,1053.0 487.1,1044.7 490.2,1037.8 493.4,986.8 496.5,984.0 499.7,1031.6 502.8,1071.6 505.9,1066.1 509.1,1019.2 512.2,976.4 515.4,964.0 518.5,939.2 521.7,1030.2 524.8,1051.6 528.0,1075.0 531.1,1074.3 534.2,1050.9 537.4,1061.2 540.5,1110.2 543.7,1043.3 546.8,1114.3 550.0,1096.4 553.1,1056.4 556.3,1031.6 559.4,994.4 562.6,965.4 565.7,1006.8 568.8,1046.8 572.0,1065.4 575.1,1059.2 578.3,1036.4 581.4,994.4 584.6,961.3 587.7,1004.0 590.9,1041.2 594.0,1059.2 597.1,1054.3 600.3,1024.0 603.4,951.6 606.6,887.5 609.7,951.6 612.9,1001.9 616.0,1022.6 619.2,1014.4 622.3,969.5 625.5,922.0 628.6,903.4 631.7,949.5 634.9,991.6 638.0,1013.0 641.2,1013.0 644.3,969.5 647.5,917.1 650.6,907.5 653.8,959.2 656.9,1004.0 660.0,1033.0 663.2,1024.0 666.3,1004.0 669.5,945.4 672.6,941.3 675.8,986.8 678.9,1021.9 682.1,1026.8 685.2,1025.4 688.4,1017.8 691.5,960.6 694.6,955.8 697.8,999.2 700.9,1011.6 704.1,1011.6 707.2,1045.4 710.4,944.7 713.5,853.7 716.7,760.7 719.8,983.3 722.9,893.7 726.1,964.0 729.2,1028.8 732.4,1016.4 735.5,964.0 738.7,959.9 741.8,981.3 745.0,1006.8 748.1,1033.0 751.3,1037.1 754.4,1008.8 757.5,937.8 760.7,937.8 763.8,988.8 767.0,1016.4 770.1,1044.0 773.3,1042.6 776.4,984.0 779.6,929.6 782.7,933.7 785.9,996.4 789.0,1031.6 792.1,1057.8 795.3,1021.2 798.4,969.5 801.6,937.1 804.7,945.4 807.9,999.2 811.0,1024.0 814.2,1051.6 817.3,1053.0 820.4,984.0 823.6,917.1 826.7,919.2 829.9,1008.8 833.0,1062.6 836.2,1039.9 839.3,1037.1 842.5,971.6 845.6,929.6 848.8,945.4 851.9,1004.0 855.0,1039.9 858.2,1050.9 861.3,1045.4 864.5,1016.4 867.6,957.8 870.8,971.6 873.9,1016.4 877.1,1028.8 880.2,1045.4 883.3,1057.8 886.5,1058.5 889.6,1019.2 892.8,1027.4 895.9,947.5 899.1,1006.8 902.2,1039.2 905.4,1045.4 908.5,1006.8 911.6,951.6 914.8,969.5 917.9,994.4 921.1,1013.7 924.2,1037.8 927.4,1058.5 930.5,1013.7 933.7,959.2 936.8,979.2 940.0,1000.6 943.1,1024.0 946.2,1064.0 949.4,1076.4 952.5,1058.5 955.7,1008.8 958.8,984.0 962.0,1061.2 965.1,1093.6 968.3,1073.6 971.4,1013.0 974.5,1007.5 977.7,1070.2 980.8,1056.4 984.0,1039.2 987.1,1021.9 990.3,1042.6 993.4,1055.7 996.6,1031.6 999.7,1010.2 1002.9,1007.5 1006.0,1013.0 1009.1,1013.7 1012.3,1057.8 1015.4,1066.1 1018.6,1055.0 1021.7,1016.4 1024.9,1008.8 1028.0,1027.4 1031.2,1028.8 1034.3,1052.3 1037.5,1052.3 1040.6,1059.9 1043.7,1008.8 1046.9,971.6 1050.0,1028.8 1053.2,1075.7 1056.3,1067.4 1059.5,1030.9 1062.6,1068.8 1065.8,974.4 1068.9,903.4 1072.0,922.0 1075.2,999.2 1078.3,968.8 1081.5,899.2 1084.6,823.4 1087.8,874.4 1090.9,951.6 1094.1,974.4 1097.2,991.6 1100.4,1011.6 1103.5,1057.1 1106.6,1054.3 1109.8,1025.4 1112.9,990.2 1116.1,1007.5 1119.2,1011.6 1122.4,1031.6 1125.5,1040.5 1128.7,1016.4 1131.8,939.2 1134.9,915.1 1138.1,996.4 1141.2,1011.6 1144.4,1021.2 1147.5,1047.4 1150.7,1031.6 1153.8,996.4 1157.0,968.8 1160.1,996.4 1163.2,1013.7 1166.4,1047.4 1169.5,1044.0 1172.7,1024.0 1175.8,984.0 1179.0,952.3 1182.1,979.2 1185.3,1050.9 1188.4,1046.1 1191.6,1041.9 1194.7,1024.0 1197.8,984.0 1201.0,969.5 1204.1,1030.2 1207.3,1018.5 1210.4,1035.0 1213.6,1032.3 1216.7,954.4 1219.9,842.0 1223.0,784.1 1226.2,882.0 1229.3,970.2 1232.4,974.4 1235.6,994.4 1238.7,971.6 1241.9,929.6 1245.0,895.1 1248.2,939.2 1251.3,977.8 1254.5,990.2 1257.6,988.2 1260.7,939.2 1263.9,884.7 1267.0,862.0 1270.2,909.6 1273.3,964.0 1276.5,1001.9 1279.6,994.4 1282.8,962.0 1285.9,888.9 1289.1,886.8 1292.2,938.5 1295.3,986.1 1298.5,998.5 1301.6,986.1 1304.8,924.0 1307.9,844.1 1311.1,798.6 1314.2,859.2 1317.4,926.1 1320.5,939.2 1323.6,894.4 1326.8,839.2 1329.9,804.8 1333.1,779.3 1336.2,862.0 1339.4,928.9 1342.5,947.5 1345.7,933.7 1348.8,874.4 1352.0,794.4 1355.1,741.3 1358.2,839.2 1361.4,919.2 1364.5,928.9 1367.7,874.4 1370.8,769.6 1374.0,787.5 1377.1,788.9 1380.3,885.4 1383.4,849.6 1386.5,883.4 1389.7,871.6 1392.8,824.1 1396.0,778.6 1399.1,780.0 1402.3,846.8 1405.4,911.6 1408.6,937.8 1411.7,916.5 1414.9,839.2 1418.0,774.4 1421.1,794.4 1424.3,854.4 1427.4,919.2 1430.6,929.6 1433.7,916.5 1436.9,839.2 1440.0,773.7 1443.2,794.4 1446.3,854.4 1449.4,913.7 1452.6,930.2 1455.7,899.2 1458.9,819.2 1462.0,741.3 1465.2,756.5 1468.3,839.2 1471.5,899.2 1474.6,919.2 1477.8,899.2 1480.9,829.6 1484.0,777.9 1487.2,804.8 1490.3,891.6 1493.5,891.6 1496.6,926.1 1499.8,888.9 1502.9,786.8 1506.1,726.9 1509.2,749.6 1512.3,819.2 1515.5,884.1 1518.6,897.8 1521.8,879.2 1524.9,819.2 1528.1,799.3 1531.2,796.5 1534.4,879.2 1537.5,995.7 1540.7,893.7 1543.8,854.4 1546.9,724.8 1550.1,546.9 1553.2,543.1 1556.4,826.8 1559.5,702.1 1562.7,774.4 1565.8,853.0 1569.0,782.0 1572.1,740.0 1575.2,744.8 1578.4,774.4 1581.5,846.8 1584.7,868.9 1587.8,829.6 1591.0,733.1 1594.1,695.8 1597.3,703.4 1600.4,734.5 1603.6,838.6 1606.7,816.5 1609.8,791.7 1613.0,719.3 1616.1,676.5 1619.3,683.4 1622.4,739.3 1625.6,802.7 1628.7,799.9 1631.9,781.3 1635.0,694.5 1638.1,633.1 1641.3,649.7 1644.4,694.5 1647.6,808.9 1650.7,832.3 1653.9,781.3 1657.0,682.1 1660.2,632.4 1663.3,574.5 1666.5,644.8 1669.6,851.0 1672.7,737.9 1675.9,782.0 1679.0,699.3 1682.2,671.0 1685.3,661.4 1688.5,665.5 1691.6,768.9 1694.8,797.2 1697.9,773.7 1701.0,682.1 1704.2,653.1 1707.3,644.1 1710.5,655.9 1713.6,766.9 1716.8,789.6 1719.9,759.3 1723.1,677.2 1726.2,649.7 1729.4,640.4 1732.5,671.7 1735.6,781.3 1738.8,806.8 1741.9,788.9 1745.1,724.1 1748.2,669.7 1751.4,632.4 1754.5,566.9 1757.7,753.8 1760.8,773.1 1763.9,761.3 1767.1,694.5 1770.2,652.1 1773.4,633.8 1776.5,674.5 1779.7,786.2 1782.8,818.6 1786.0,798.6 1789.1,724.1 1792.2,671.7 1795.4,660.7 1798.5,719.3 1801.7,804.1 1804.8,833.7 1808.0,811.7 1811.1,744.1 1814.3,700.7 1817.4,705.5 1820.6,768.9 1823.7,844.8 1826.8,852.3 1830.0,868.2 1833.1,793.7 1836.3,744.1 1839.4,710.3 1842.6,818.6 1845.7,883.4 1848.9,855.8 1852.0,788.9 1855.2,674.5 1858.3,567.6 1861.4,538.7 1864.6,836.5 1867.7,711.7 1870.9,773.7 1874.0,833.7 1877.2,776.5 1880.3,739.3 1883.5,733.1 1886.6,768.9 1889.7,828.9 1892.9,855.8 1896.0,816.5 1899.2,731.7 1902.3,666.2 1905.5,691.7 1908.6,751.7 1911.8,804.1 1914.9,812.4 1918.1,797.9 1921.2,679.3 1924.3,659.3 1927.5,694.5 1930.6,786.2 1933.8,848.9 1936.9,868.2 1940.1,831.0 1943.2,731.7 1946.4,645.1 1949.5,694.5 1952.6,760.0 1955.8,844.8 1958.9,930.2 1962.1,833.0 1965.2,694.5 1968.4,601.4 1971.5,634.5 1974.7,744.1 1977.8,830.3 1981.0,818.6 1984.1,806.8 1987.2,719.3 1990.4,648.3 1993.5,677.2 1996.7,744.1 1999.8,817.2 2003.0,818.6 2006.1,788.9 2009.3,694.5 2012.4,648.3 2015.5,704.1 2018.7,781.3 2021.8,831.0 2025.0,840.6 2028.1,838.6 2031.3,793.7 2034.4,759.3 2037.6,798.6 2040.7,859.2 2043.9,674.5 2047.0,728.9 2050.1,745.5 2053.3,669.7 2056.4,613.8 2059.6,666.9 2062.7,724.1 2065.9,728.9 2069.0,746.9 2072.2,699.3 2075.3,677.2 2078.4,620.0 2081.6,669.7 2084.7,705.5 2087.9,715.8 2091.0,773.1 2094.2,780.0 2097.3,734.5 2100.5,652.1 2103.6,627.6 2106.8,768.9 2109.9,879.9 2113.0,744.1 2116.2,613.8 2119.3,620.7 2122.5,819.9 2125.6,761.3 2128.8,746.9 2131.9,741.3 2135.1,762.7 2138.2,628.3 2141.3,644.8 2144.5,602.1 2147.6,629.7 2150.8,646.9 2153.9,679.3 2157.1,708.3 2160.2,704.1 2163.4,657.2 2166.5,637.2 2169.7,669.7 2172.8,713.1 2175.9,714.5 2179.1,757.9 2182.2,755.8 2185.4,711.0 2188.5,671.0 2191.7,592.4 2194.8,724.1 2198.0,826.1 2201.1,802.0 2204.2,745.5 2207.4,704.8 2210.5,895.1 2213.7,366.3 2216.8,553.8 2220.0,645.5 2223.1,633.1 2226.3,619.3 2229.4,542.8 2232.6,682.7 2235.7,695.2 2238.8,743.4 2242.0,816.5 2245.1,775.8 2248.3,794.4 2251.4,805.5 2254.6,806.2 2257.7,760.7 2260.9,788.9 2264.0,807.5 2267.1,816.5 2270.3,813.7 2273.4,749.6 2276.6,665.5 2279.7,650.0 2282.9,782.0 2286.0,800.6 2289.2,769.6 2292.3,780.6 2295.5,760.7 2298.6,742.7 2301.7,746.9 2304.9,769.6 2308.0,782.0 2311.2,791.7 2314.3,791.0 2317.5,749.6 2320.6,711.7 2323.8,734.5 2326.9,754.4 2330.0,762.7 2333.2,759.3 2336.3,812.4 2339.5,782.0 2342.6,769.6 2345.8,722.7 2348.9,757.9 2352.1,771.7 2355.2,795.8 2358.3,769.6 2361.5,719.3 2364.6,664.8 2367.8,658.6 2370.9,775.8 2374.1,784.1 2377.2,729.6 2380.4,725.5 2383.5,639.3 2386.7,564.9 2389.8,564.2 2392.9,674.5 2396.1,815.8 2399.2,716.5 2402.4,684.1 2405.5,626.9 2408.7,606.9 2411.8,591.7 2415.0,649.0 2418.1,693.8 2421.2,741.3 2424.4,746.2 2427.5,689.0 2430.7,661.4 2433.8,650.3 2437.0,675.2 2440.1,753.8 2443.3,764.8 2446.4,718.6 2449.6,671.7 2452.7,649.0 2455.8,586.9 2459.0,602.1 2462.1,697.9 2465.3,705.5 2468.4,651.7 2471.6,631.7 2474.7,625.5 2477.9,599.3 2481.0,629.7 2484.2,724.1 2487.3,723.4 2490.4,699.3 2493.6,659.3 2496.7,629.7 2499.9,619.3 2503.0,684.1 2506.2,742.7 2509.3,753.8 2512.5,741.3 2515.6,644.5 2518.7,559.3 2521.9,584.9 2525.0,606.9 2528.2,669.7 2531.3,700.7 2534.5,699.3 2537.6,629.7 2540.8,586.9 2543.9,584.9 2547.1,614.5 2550.2,699.3 2553.3,733.1 2556.5,716.5 2559.6,633.1 2562.8,659.3 2565.9,724.1 2569.1,798.6 2572.2,662.1 2575.4,663.4 2578.5,670.3 2581.6,619.3 2584.8,587.6 2587.9,635.9 2591.1,640.7 2594.2,689.0 2597.4,708.9 2600.5,689.0 2603.7,624.8 2606.8,575.2 2610.0,598.6 2613.1,612.4 2616.2,711.7 2619.4,717.9 2622.5,706.9 2625.7,674.5 2628.8,640.0 2632.0,689.0 2635.1,738.6 2638.3,676.5 2641.4,711.7 2644.5,708.3 2647.7,614.5 2650.8,564.2 2654.0,604.8 2657.1,617.3 2660.3,669.7 2663.4,686.9 2666.6,669.7 2669.7,589.7 2672.8,558.7 2676.0,597.3 2679.1,651.7 2682.3,708.9 2685.4,729.6 2688.6,716.5 2691.7,619.3 2694.9,471.8 2698.0,491.8 2701.2,787.5 2704.3,626.9 2707.4,591.1 2710.6,697.9 2713.7,669.7 2716.9,639.3 2720.0,658.6 2723.2,626.9 2726.3,685.5 2729.5,693.8 2732.6,675.9 2735.8,619.3 2738.9,614.2 2742.0,613.1 2745.2,589.7 2748.3,686.9 2751.5,685.5 2754.6,682.1 2757.8,622.1 2760.9,608.3 2764.1,610.4 2767.2,649.7 2770.3,657.9 2773.5,660.0 2776.6,662.1 2779.8,604.8 2782.9,578.0 2786.1,597.3 2789.2,593.8 2792.4,710.3 2795.5,740.7 2798.7,744.1 2801.8,639.3 2804.9,582.1 2808.1,523.5 2811.2,773.7 2814.4,822.0 2817.5,637.9 2820.7,697.2 2823.8,679.3 2827.0,671.7 2830.1,639.3 2833.2,604.2 2836.4,666.9 2839.5,706.2 2842.7,689.0 2845.8,649.7 2849.0,619.3 2852.1,617.9 2855.3,595.2 2858.4,681.4 2861.6,704.1 2864.7,664.1 2867.8,642.1 2871.0,624.5 2874.1,613.1 2877.3,605.5 2880.4,686.9 2883.6,728.9 2886.7,711.7 2889.9,656.6 2893.0,642.1 2896.1,626.9 2899.3,629.7 2902.4,635.2 2905.6,691.0 2908.7,649.7 2911.9,594.5 2915.0,584.2 2918.2,592.4 2921.3,608.3 2924.5,676.5 2927.6,688.3 2930.7,689.0 2933.9,659.3 2937.0,619.3 2940.2,617.3 2943.3,637.2 2946.5,691.7 2949.6,710.3 2952.8,705.5 2955.9,669.0 2959.0,641.4 2962.2,641.4 2965.3,674.5 2968.5,699.3 2971.6,737.9 2974.8,752.4 2977.9,694.5 2981.1,671.0 2984.2,691.7 2987.3,744.1 2990.5,791.0 2993.6,807.5 2996.8,773.7 2999.9,644.1 3003.1,550.4 3006.2,508.3 3009.4,806.2 3012.5,641.0 3015.7,646.2 3018.8,724.1 3021.9,680.3 3025.1,661.7 3028.2,680.3 3031.4,640.0 3034.5,675.5 3037.7,711.4 3040.8,700.0 3044.0,684.1 3047.1,669.0 3050.2,827.5 3053.4,659.3 3056.5,611.7 3059.7,677.9 3062.8,668.6 3066.0,631.7 3069.1,605.5 3072.3,640.4 3075.4,696.5 3078.6,733.8 3081.7,697.2 3084.8,731.4 3088.0,669.0 3091.1,605.9 3094.3,594.9 3097.4,681.4 3100.6,708.9 3103.7,725.1 3106.9,702.1 3110.0,619.3 3113.2,544.9 3116.3,577.3 3119.4,669.0 3122.6,715.8 3125.7,704.8 3128.9,707.6 3132.0,655.2" fill="none" stroke="#003b71" stroke-width="4.2" stroke-linejoin="round" stroke-linecap="butt"/>
<line x1="1088" x2="1088" y1="120.0" y2="1275.0" stroke="#808080" stroke-width="4" shape-rendering="crispEdges"/>
<line x1="2235" x2="2235" y1="120.0" y2="1275.0" stroke="#808080" stroke-width="4" shape-rendering="crispEdges"/>
<line x1="157.0" x2="157.0" y1="120.0" y2="1275.0" stroke="#d01848" stroke-width="6" shape-rendering="crispEdges"/>
</g>
<line x1="113.0" x2="113.0" y1="119.0" y2="1276.0" stroke="#111" stroke-width="2" shape-rendering="crispEdges"/>
<line x1="112.0" x2="3136.0" y1="1275.0" y2="1275.0" stroke="#111" stroke-width="2" shape-rendering="crispEdges"/>
<line x1="105.7" x2="113.0" y1="1198" y2="1198" stroke="#111" stroke-width="2" shape-rendering="crispEdges"/>
<text x="96.9" y="1208.6" font-size="29.17" text-anchor="end" fill="#000">−80</text>
<line x1="105.7" x2="113.0" y1="1060" y2="1060" stroke="#111" stroke-width="2" shape-rendering="crispEdges"/>
<text x="96.9" y="1070.7" font-size="29.17" text-anchor="end" fill="#000">−60</text>
<line x1="105.7" x2="113.0" y1="923" y2="923" stroke="#111" stroke-width="2" shape-rendering="crispEdges"/>
<text x="96.9" y="932.9" font-size="29.17" text-anchor="end" fill="#000">−40</text>
<line x1="105.7" x2="113.0" y1="785" y2="785" stroke="#111" stroke-width="2" shape-rendering="crispEdges"/>
<text x="96.9" y="795.0" font-size="29.17" text-anchor="end" fill="#000">−20</text>
<line x1="105.7" x2="113.0" y1="647" y2="647" stroke="#111" stroke-width="2" shape-rendering="crispEdges"/>
<text x="96.9" y="657.1" font-size="29.17" text-anchor="end" fill="#000">0</text>
<line x1="105.7" x2="113.0" y1="509" y2="509" stroke="#111" stroke-width="2" shape-rendering="crispEdges"/>
<text x="96.9" y="519.3" font-size="29.17" text-anchor="end" fill="#000">20</text>
<line x1="105.7" x2="113.0" y1="371" y2="371" stroke="#111" stroke-width="2" shape-rendering="crispEdges"/>
<text x="96.9" y="381.4" font-size="29.17" text-anchor="end" fill="#000">40</text>
<line x1="105.7" x2="113.0" y1="233" y2="233" stroke="#111" stroke-width="2" shape-rendering="crispEdges"/>
<text x="96.9" y="243.6" font-size="29.17" text-anchor="end" fill="#000">60</text>
<line x1="125" x2="125" y1="1275.0" y2="1282.3" stroke="#111" stroke-width="2" shape-rendering="crispEdges"/>
<text x="124.8" y="1312.1" font-size="29.17" text-anchor="middle" fill="#000">3/1</text>
<text x="124.8" y="1343.9" font-size="29.17" text-anchor="middle" fill="#000">2020</text>
<line x1="223" x2="223" y1="1275.0" y2="1282.3" stroke="#111" stroke-width="2" shape-rendering="crispEdges"/>
<text x="222.2" y="1312.1" font-size="29.17" text-anchor="middle" fill="#000">4/1</text>
<line x1="317" x2="317" y1="1275.0" y2="1282.3" stroke="#111" stroke-width="2" shape-rendering="crispEdges"/>
<text x="316.6" y="1312.1" font-size="29.17" text-anchor="middle" fill="#000">5/1</text>
<line x1="414" x2="414" y1="1275.0" y2="1282.3" stroke="#111" stroke-width="2" shape-rendering="crispEdges"/>
<text x="414.1" y="1312.1" font-size="29.17" text-anchor="middle" fill="#000">6/1</text>
<line x1="509" x2="509" y1="1275.0" y2="1282.3" stroke="#111" stroke-width="2" shape-rendering="crispEdges"/>
<text x="508.5" y="1312.1" font-size="29.17" text-anchor="middle" fill="#000">7/1</text>
<line x1="606" x2="606" y1="1275.0" y2="1282.3" stroke="#111" stroke-width="2" shape-rendering="crispEdges"/>
<text x="606.0" y="1312.1" font-size="29.17" text-anchor="middle" fill="#000">8/1</text>
<line x1="704" x2="704" y1="1275.0" y2="1282.3" stroke="#111" stroke-width="2" shape-rendering="crispEdges"/>
<text x="703.4" y="1312.1" font-size="29.17" text-anchor="middle" fill="#000">9/1</text>
<line x1="798" x2="798" y1="1275.0" y2="1282.3" stroke="#111" stroke-width="2" shape-rendering="crispEdges"/>
<text x="797.8" y="1312.1" font-size="29.17" text-anchor="middle" fill="#000">10/1</text>
<line x1="896" x2="896" y1="1275.0" y2="1282.3" stroke="#111" stroke-width="2" shape-rendering="crispEdges"/>
<text x="895.3" y="1312.1" font-size="29.17" text-anchor="middle" fill="#000">11/1</text>
<line x1="990" x2="990" y1="1275.0" y2="1282.3" stroke="#111" stroke-width="2" shape-rendering="crispEdges"/>
<text x="989.7" y="1312.1" font-size="29.17" text-anchor="middle" fill="#000">12/1</text>
<line x1="1088" x2="1088" y1="1275.0" y2="1282.3" stroke="#111" stroke-width="2" shape-rendering="crispEdges"/>
<text x="1087.2" y="1312.1" font-size="29.17" text-anchor="middle" fill="#000">1/1</text>
<text x="1087.2" y="1343.9" font-size="29.17" text-anchor="middle" fill="#000">2021</text>
<line x1="1185" x2="1185" y1="1275.0" y2="1282.3" stroke="#111" stroke-width="2" shape-rendering="crispEdges"/>
<text x="1184.6" y="1312.1" font-size="29.17" text-anchor="middle" fill="#000">2/1</text>
<line x1="1273" x2="1273" y1="1275.0" y2="1282.3" stroke="#111" stroke-width="2" shape-rendering="crispEdges"/>
<text x="1272.7" y="1312.1" font-size="29.17" text-anchor="middle" fill="#000">3/1</text>
<line x1="1371" x2="1371" y1="1275.0" y2="1282.3" stroke="#111" stroke-width="2" shape-rendering="crispEdges"/>
<text x="1370.2" y="1312.1" font-size="29.17" text-anchor="middle" fill="#000">4/1</text>
<line x1="1465" x2="1465" y1="1275.0" y2="1282.3" stroke="#111" stroke-width="2" shape-rendering="crispEdges"/>
<text x="1464.6" y="1312.1" font-size="29.17" text-anchor="middle" fill="#000">5/1</text>
<line x1="1562" x2="1562" y1="1275.0" y2="1282.3" stroke="#111" stroke-width="2" shape-rendering="crispEdges"/>
<text x="1562.1" y="1312.1" font-size="29.17" text-anchor="middle" fill="#000">6/1</text>
<line x1="1657" x2="1657" y1="1275.0" y2="1282.3" stroke="#111" stroke-width="2" shape-rendering="crispEdges"/>
<text x="1656.4" y="1312.1" font-size="29.17" text-anchor="middle" fill="#000">7/1</text>
<line x1="1754" x2="1754" y1="1275.0" y2="1282.3" stroke="#111" stroke-width="2" shape-rendering="crispEdges"/>
<text x="1753.9" y="1312.1" font-size="29.17" text-anchor="middle" fill="#000">8/1</text>
<line x1="1852" x2="1852" y1="1275.0" y2="1282.3" stroke="#111" stroke-width="2" shape-rendering="crispEdges"/>
<text x="1851.4" y="1312.1" font-size="29.17" text-anchor="middle" fill="#000">9/1</text>
<line x1="1946" x2="1946" y1="1275.0" y2="1282.3" stroke="#111" stroke-width="2" shape-rendering="crispEdges"/>
<text x="1945.8" y="1312.1" font-size="29.17" text-anchor="middle" fill="#000">10/1</text>
<line x1="2044" x2="2044" y1="1275.0" y2="1282.3" stroke="#111" stroke-width="2" shape-rendering="crispEdges"/>
<text x="2043.3" y="1312.1" font-size="29.17" text-anchor="middle" fill="#000">11/1</text>
<line x1="2138" x2="2138" y1="1275.0" y2="1282.3" stroke="#111" stroke-width="2" shape-rendering="crispEdges"/>
<text x="2137.6" y="1312.1" font-size="29.17" text-anchor="middle" fill="#000">12/1</text>
<line x1="2236" x2="2236" y1="1275.0" y2="1282.3" stroke="#111" stroke-width="2" shape-rendering="crispEdges"/>
<text x="2235.1" y="1312.1" font-size="29.17" text-anchor="middle" fill="#000">1/1</text>
<text x="2235.1" y="1343.9" font-size="29.17" text-anchor="middle" fill="#000">2022</text>
<line x1="2333" x2="2333" y1="1275.0" y2="1282.3" stroke="#111" stroke-width="2" shape-rendering="crispEdges"/>
<text x="2332.6" y="1312.1" font-size="29.17" text-anchor="middle" fill="#000">2/1</text>
<line x1="2421" x2="2421" y1="1275.0" y2="1282.3" stroke="#111" stroke-width="2" shape-rendering="crispEdges"/>
<text x="2420.7" y="1312.1" font-size="29.17" text-anchor="middle" fill="#000">3/1</text>
<line x1="2519" x2="2519" y1="1275.0" y2="1282.3" stroke="#111" stroke-width="2" shape-rendering="crispEdges"/>
<text x="2518.2" y="1312.1" font-size="29.17" text-anchor="middle" fill="#000">4/1</text>
<line x1="2613" x2="2613" y1="1275.0" y2="1282.3" stroke="#111" stroke-width="2" shape-rendering="crispEdges"/>
<text x="2612.5" y="1312.1" font-size="29.17" text-anchor="middle" fill="#000">5/1</text>
<line x1="2710" x2="2710" y1="1275.0" y2="1282.3" stroke="#111" stroke-width="2" shape-rendering="crispEdges"/>
<text x="2710.0" y="1312.1" font-size="29.17" text-anchor="middle" fill="#000">6/1</text>
<line x1="2805" x2="2805" y1="1275.0" y2="1282.3" stroke="#111" stroke-width="2" shape-rendering="crispEdges"/>
<text x="2804.4" y="1312.1" font-size="29.17" text-anchor="middle" fill="#000">7/1</text>
<line x1="2902" x2="2902" y1="1275.0" y2="1282.3" stroke="#111" stroke-width="2" shape-rendering="crispEdges"/>
<text x="2901.9" y="1312.1" font-size="29.17" text-anchor="middle" fill="#000">8/1</text>
<line x1="3000" x2="3000" y1="1275.0" y2="1282.3" stroke="#111" stroke-width="2" shape-rendering="crispEdges"/>
<text x="2999.4" y="1312.1" font-size="29.17" text-anchor="middle" fill="#000">9/1</text>
<line x1="3094" x2="3094" y1="1275.0" y2="1282.3" stroke="#111" stroke-width="2" shape-rendering="crispEdges"/>
<text x="3093.7" y="1312.1" font-size="29.17" text-anchor="middle" fill="#000">10/1</text>
<text x="1574.6" y="52.8" font-size="50.08" text-anchor="middle" fill="#0679c8">Spending on Accommodation</text>
<text x="1624.2" y="106.8" font-size="33.62" text-anchor="middle" fill="#000">An Event Study Based on Payment Card Transactions</text>
<text x="14.5" y="1382.3" font-size="25" textLength="2072.1" fill="#000">Note: Chart shows the difference from the typical level of spending without COVID-19-related changes in the economy. The typical level corresponds to a value of 0.</text>
<text x="15.2" y="1410.2" font-size="25" textLength="838.1" fill="#000">The shaded area represents 95 percent confidence interval bands.</text>
<text x="14.5" y="1455.2" font-size="29.17" textLength="491.2" fill="#000">U.S. Bureau of Economic Analysis</text>
</svg></body></html>
